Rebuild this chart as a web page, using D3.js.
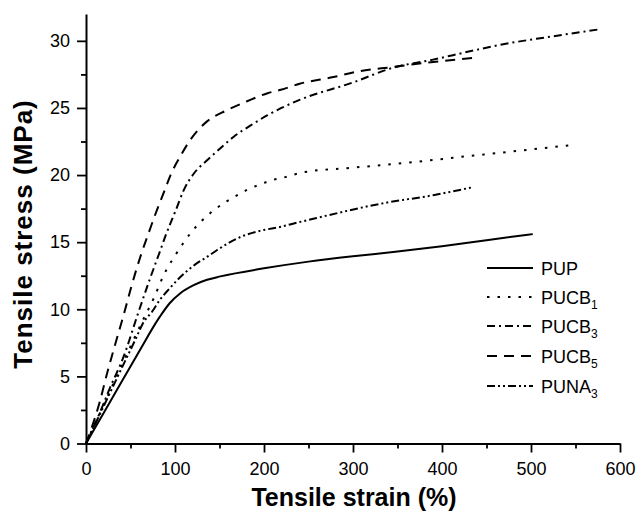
<!DOCTYPE html>
<html>
<head>
<meta charset="utf-8">
<script src="https://cdn.jsdelivr.net/npm/d3@7"></script>
<style>
  body { margin: 0; background: #fff; }
  svg { font-family: "Liberation Sans", Arial, sans-serif; }
</style>
</head>
<body>
<div id="chart"></div>
<script>
// values (strain in %, stress in MPa)
var pupStrain = [0, 20, 40, 60, 83, 94, 106, 121, 136, 151, 200, 250, 300, 350, 400, 450, 502];
var pupStress = [0, 2.3, 4.6, 6.9, 9.45, 10.45, 11.2, 11.8, 12.2, 12.45, 13.05, 13.55, 13.95, 14.3, 14.7, 15.15, 15.6];

var pucb1Strain = [0, 20, 40, 64, 76, 87, 102, 110, 119, 131, 144, 157, 170, 181, 194, 208, 221, 244, 300, 358, 428, 499, 548];
var pucb1Stress = [0, 2.9, 5.8, 9.2, 10.8, 12.5, 14.2, 15.0, 15.8, 16.65, 17.4, 18.0, 18.5, 18.9, 19.26, 19.6, 19.8, 20.2, 20.55, 20.9, 21.4, 21.9, 22.25];

var pucb3Strain = [0, 15, 26, 43, 58, 72, 83, 89.5, 101, 110, 121, 136, 151, 166, 185, 204, 219, 240, 300, 345, 390, 430, 465, 521, 577];
var pucb3Stress = [0, 2.2, 4.0, 6.6, 9.6, 12.3, 14.3, 15.5, 17.4, 18.9, 20.1, 21.1, 22.0, 22.86, 23.7, 24.46, 24.98, 25.6, 26.9, 28.0, 28.6, 29.2, 29.7, 30.3, 30.86];

var pucb5Strain = [0, 15, 24, 35, 42, 51, 61, 71, 78, 88, 95, 106, 118, 136, 159, 181, 204, 219, 240, 278, 308, 345, 380, 409, 437];
var pucb5Stress = [0, 3.0, 5.3, 7.9, 9.5, 11.7, 13.9, 15.8, 17.1, 18.8, 20.0, 21.4, 22.7, 24.0, 24.85, 25.5, 26.1, 26.35, 26.8, 27.3, 27.75, 28.05, 28.35, 28.55, 28.75];

var puna3Strain = [0, 20, 40, 57, 64, 74, 83, 94, 106, 124, 136, 147, 174, 196, 219, 240, 259, 334, 390, 435];
var puna3Stress = [0, 2.8, 5.6, 7.96, 8.96, 9.8, 10.7, 11.56, 12.4, 13.4, 13.9, 14.4, 15.4, 15.85, 16.15, 16.5, 16.8, 17.9, 18.5, 19.1];

var seriesNames = ["PUP", "PUCB", "PUCB", "PUCB", "PUNA"];
var seriesSubs = ["", "1", "3", "5", "3"];
var seriesDash = ["none", "2.5,8", "8,4,2,4", "10,7", "8,3,2,3,2,3"];

var xTicks = [0, 100, 200, 300, 400, 500, 600];
var yTicks = [0, 5, 10, 15, 20, 25, 30];

var allSeries = [
  [pupStrain, pupStress],
  [pucb1Strain, pucb1Stress],
  [pucb3Strain, pucb3Stress],
  [pucb5Strain, pucb5Stress],
  [puna3Strain, puna3Stress]
];

var width = 636, height = 514;

var svg = d3.select("#chart")
    .append("svg")
    .attr("width", width)
    .attr("height", height);

var x = d3.scaleLinear().domain([0, 600]).range([86, 620]);
var y = d3.scaleLinear().domain([0, 32]).range([443.5, 14]);

// minor ticks first so the main axis line sits on top
svg.append("g")
    .attr("transform", "translate(0,443.5)")
    .call(d3.axisBottom(x).tickValues(d3.range(50, 600, 100)).tickSize(5).tickFormat(""))
    .call(g => g.select(".domain").remove())
    .selectAll("line").attr("stroke-width", 1.8);

svg.append("g")
    .attr("transform", "translate(86,0)")
    .call(d3.axisLeft(y).tickValues(d3.range(2.5, 32, 5)).tickSize(5).tickFormat(""))
    .call(g => g.select(".domain").remove())
    .selectAll("line").attr("stroke-width", 1.8);

var xAxis = svg.append("g")
    .attr("transform", "translate(0,443.5)")
    .call(d3.axisBottom(x).tickValues(xTicks).tickSize(9).tickSizeOuter(0).tickPadding(10));

var yAxis = svg.append("g")
    .attr("transform", "translate(86,0)")
    .call(d3.axisLeft(y).tickValues(yTicks).tickSize(9).tickSizeOuter(0).tickPadding(7));

[xAxis, yAxis].forEach(function (g) {
    g.select(".domain").attr("stroke-width", 2);
    g.selectAll(".tick line").attr("stroke-width", 1.8);
    g.selectAll(".tick text")
        .attr("font-family", "Liberation Sans, Arial, sans-serif")
        .attr("font-size", 18)
        .attr("fill", "#000");
});

// axis titles
svg.append("text")
    .attr("x", 354)
    .attr("y", 506)
    .attr("text-anchor", "middle")
    .attr("font-size", 25)
    .attr("font-weight", "bold")
    .text("Tensile strain (%)");

svg.append("text")
    .attr("transform", "translate(32,234) rotate(-90)")
    .attr("text-anchor", "middle")
    .attr("font-size", 26)
    .attr("letter-spacing", 1)
    .attr("font-weight", "bold")
    .text("Tensile stress (MPa)");

// curves
var line = d3.line()
    .x(d => x(d[0]))
    .y(d => y(d[1]))
    .curve(d3.curveMonotoneX);

allSeries.forEach(function (s, i) {
    var pts = s[0].map((v, j) => [v, s[1][j]]);
    svg.append("path")
        .datum(pts)
        .attr("fill", "none")
        .attr("stroke", "#000")
        .attr("stroke-width", 2)
        .attr("stroke-dasharray", seriesDash[i])
        .attr("d", line);
});

// legend
var legendY = [268, 297, 326, 356, 386];
var legend = svg.append("g");
seriesNames.forEach(function (name, i) {
    legend.append("line")
        .attr("x1", 487).attr("x2", 533)
        .attr("y1", legendY[i]).attr("y2", legendY[i])
        .attr("stroke", "#000")
        .attr("stroke-width", 2)
        .attr("stroke-dasharray", seriesDash[i]);
    var t = legend.append("text")
        .attr("x", 541)
        .attr("y", legendY[i] + 6.5)
        .attr("font-size", 18)
        .text(name);
    if (seriesSubs[i]) {
        t.append("tspan")
            .attr("font-size", 12)
            .attr("dy", 5)
            .text(seriesSubs[i]);
    }
});
</script>
</body>
</html>
